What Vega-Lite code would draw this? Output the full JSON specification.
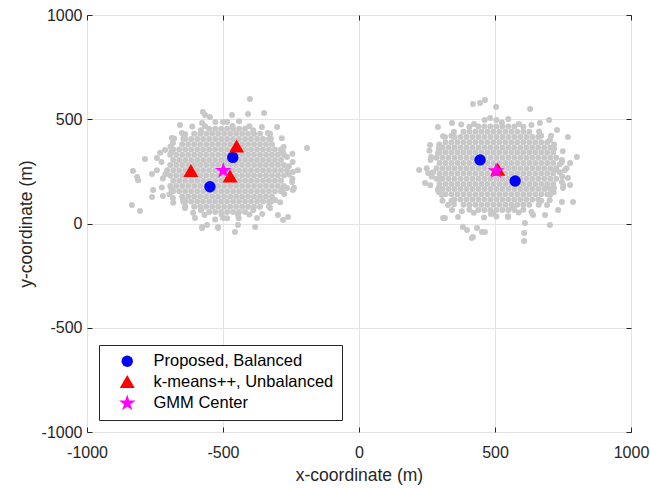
{
"$schema":"https://vega.github.io/schema/vega-lite/v6.json",
"width":544,"height":417,
"autosize":{"type":"none"},
"padding":{"left":87,"top":15,"right":19,"bottom":56},
"background":"white",
"config":{
"view":{"stroke":"#262626","strokeWidth":1},
"font":"Liberation Sans",
"axis":{"labelFont":"Liberation Sans","titleFont":"Liberation Sans","labelFontSize":16,"titleFontSize":17.5,"titleFontWeight":"normal","labelColor":"#262626","titleColor":"#262626","tickColor":"#262626","tickSize":-5,"domain":false,"gridColor":"#e3e3e3","labelOverlap":false,"labelFlush":false,"labelBound":false},
"legend":{"labelFont":"Liberation Sans","labelFontSize":16.5,"labelColor":"#000000"}
},
"datasets":{
"gray":[
{"x":-705,"y":255},{"x":-683,"y":255},{"x":-661,"y":255},{"x":-639,"y":255},{"x":-617,"y":255},{"x":-595,"y":255},{"x":-573,"y":255},{"x":-551,"y":255},{"x":-529,"y":255},{"x":-507,"y":255},{"x":-485,"y":255},{"x":-463,"y":255},{"x":-441,"y":255},{"x":-419,"y":255},{"x":-397,"y":255},{"x":-375,"y":255},{"x":-353,"y":255},{"x":-331,"y":255},{"x":-309,"y":255},{"x":-287,"y":255},{"x":-265,"y":255},
{"x":-694,"y":280},{"x":-672,"y":280},{"x":-650,"y":280},{"x":-628,"y":280},{"x":-606,"y":280},{"x":-584,"y":280},{"x":-562,"y":280},{"x":-540,"y":280},{"x":-518,"y":280},{"x":-496,"y":280},{"x":-474,"y":280},{"x":-452,"y":280},{"x":-430,"y":280},{"x":-408,"y":280},{"x":-386,"y":280},{"x":-364,"y":280},{"x":-342,"y":280},{"x":-320,"y":280},{"x":-298,"y":280},{"x":-276,"y":280},
{"x":-694,"y":230},{"x":-672,"y":230},{"x":-650,"y":230},{"x":-628,"y":230},{"x":-606,"y":230},{"x":-584,"y":230},{"x":-562,"y":230},{"x":-540,"y":230},{"x":-518,"y":230},{"x":-496,"y":230},{"x":-474,"y":230},{"x":-452,"y":230},{"x":-430,"y":230},{"x":-408,"y":230},{"x":-386,"y":230},{"x":-364,"y":230},{"x":-342,"y":230},{"x":-320,"y":230},{"x":-298,"y":230},{"x":-276,"y":230},
{"x":-683,"y":305},{"x":-661,"y":305},{"x":-639,"y":305},{"x":-617,"y":305},{"x":-595,"y":305},{"x":-573,"y":305},{"x":-551,"y":305},{"x":-529,"y":305},{"x":-507,"y":305},{"x":-485,"y":305},{"x":-463,"y":305},{"x":-441,"y":305},{"x":-419,"y":305},{"x":-397,"y":305},{"x":-375,"y":305},{"x":-353,"y":305},{"x":-331,"y":305},{"x":-309,"y":305},{"x":-287,"y":305},
{"x":-683,"y":205},{"x":-661,"y":205},{"x":-639,"y":205},{"x":-617,"y":205},{"x":-595,"y":205},{"x":-573,"y":205},{"x":-551,"y":205},{"x":-529,"y":205},{"x":-507,"y":205},{"x":-485,"y":205},{"x":-463,"y":205},{"x":-441,"y":205},{"x":-419,"y":205},{"x":-397,"y":205},{"x":-375,"y":205},{"x":-353,"y":205},{"x":-331,"y":205},{"x":-309,"y":205},{"x":-287,"y":205},
{"x":-694,"y":330},{"x":-672,"y":330},{"x":-650,"y":330},{"x":-628,"y":330},{"x":-606,"y":330},{"x":-584,"y":330},{"x":-562,"y":330},{"x":-540,"y":330},{"x":-518,"y":330},{"x":-496,"y":330},{"x":-474,"y":330},{"x":-452,"y":330},{"x":-430,"y":330},{"x":-408,"y":330},{"x":-386,"y":330},{"x":-364,"y":330},{"x":-342,"y":330},{"x":-320,"y":330},{"x":-298,"y":330},{"x":-276,"y":330},
{"x":-694,"y":180},{"x":-672,"y":180},{"x":-650,"y":180},{"x":-628,"y":180},{"x":-606,"y":180},{"x":-584,"y":180},{"x":-562,"y":180},{"x":-540,"y":180},{"x":-518,"y":180},{"x":-496,"y":180},{"x":-474,"y":180},{"x":-452,"y":180},{"x":-430,"y":180},{"x":-408,"y":180},{"x":-386,"y":180},{"x":-364,"y":180},{"x":-342,"y":180},{"x":-320,"y":180},{"x":-298,"y":180},{"x":-276,"y":180},
{"x":-683,"y":355},{"x":-661,"y":355},{"x":-639,"y":355},{"x":-617,"y":355},{"x":-595,"y":355},{"x":-573,"y":355},{"x":-551,"y":355},{"x":-529,"y":355},{"x":-507,"y":355},{"x":-485,"y":355},{"x":-463,"y":355},{"x":-441,"y":355},{"x":-419,"y":355},{"x":-397,"y":355},{"x":-375,"y":355},{"x":-353,"y":355},{"x":-331,"y":355},{"x":-309,"y":355},{"x":-287,"y":355},
{"x":-683,"y":155},{"x":-661,"y":155},{"x":-639,"y":155},{"x":-617,"y":155},{"x":-595,"y":155},{"x":-573,"y":155},{"x":-551,"y":155},{"x":-529,"y":155},{"x":-507,"y":155},{"x":-485,"y":155},{"x":-463,"y":155},{"x":-441,"y":155},{"x":-419,"y":155},{"x":-397,"y":155},{"x":-375,"y":155},{"x":-353,"y":155},{"x":-331,"y":155},{"x":-309,"y":155},{"x":-287,"y":155},
{"x":-650,"y":380},{"x":-628,"y":380},{"x":-606,"y":380},{"x":-584,"y":380},{"x":-562,"y":380},{"x":-540,"y":380},{"x":-518,"y":380},{"x":-496,"y":380},{"x":-474,"y":380},{"x":-452,"y":380},{"x":-430,"y":380},{"x":-408,"y":380},{"x":-386,"y":380},{"x":-364,"y":380},{"x":-342,"y":380},{"x":-320,"y":380},
{"x":-650,"y":130},{"x":-628,"y":130},{"x":-606,"y":130},{"x":-584,"y":130},{"x":-562,"y":130},{"x":-540,"y":130},{"x":-518,"y":130},{"x":-496,"y":130},{"x":-474,"y":130},{"x":-452,"y":130},{"x":-430,"y":130},{"x":-408,"y":130},{"x":-386,"y":130},{"x":-364,"y":130},{"x":-342,"y":130},{"x":-320,"y":130},
{"x":-639,"y":405},{"x":-617,"y":405},{"x":-595,"y":405},{"x":-573,"y":405},{"x":-551,"y":405},{"x":-529,"y":405},{"x":-507,"y":405},{"x":-485,"y":405},{"x":-463,"y":405},{"x":-441,"y":405},{"x":-419,"y":405},{"x":-397,"y":405},{"x":-375,"y":405},{"x":-353,"y":405},{"x":-331,"y":405},
{"x":-639,"y":105},{"x":-617,"y":105},{"x":-595,"y":105},{"x":-573,"y":105},{"x":-551,"y":105},{"x":-529,"y":105},{"x":-507,"y":105},{"x":-485,"y":105},{"x":-463,"y":105},{"x":-441,"y":105},{"x":-419,"y":105},{"x":-397,"y":105},{"x":-375,"y":105},{"x":-353,"y":105},{"x":-331,"y":105},
{"x":-606,"y":430},{"x":-584,"y":430},{"x":-562,"y":430},{"x":-540,"y":430},{"x":-518,"y":430},{"x":-496,"y":430},{"x":-474,"y":430},{"x":-452,"y":430},{"x":-430,"y":430},{"x":-408,"y":430},{"x":-386,"y":430},{"x":-364,"y":430},
{"x":-606,"y":80},{"x":-584,"y":80},{"x":-562,"y":80},{"x":-540,"y":80},{"x":-518,"y":80},{"x":-496,"y":80},{"x":-474,"y":80},{"x":-452,"y":80},{"x":-430,"y":80},{"x":-408,"y":80},{"x":-386,"y":80},{"x":-364,"y":80},
{"x":-551,"y":455},{"x":-529,"y":455},{"x":-507,"y":455},{"x":-485,"y":455},{"x":-463,"y":455},{"x":-441,"y":455},{"x":-419,"y":455},
{"x":-551,"y":55},{"x":-529,"y":55},{"x":-507,"y":55},{"x":-485,"y":55},{"x":-463,"y":55},{"x":-441,"y":55},{"x":-419,"y":55},
{"x":-225,"y":255},{"x":-244,"y":295},{"x":-245,"y":335},{"x":-277,"y":367},{"x":-284,"y":409},{"x":-327,"y":431},{"x":-357,"y":463},{"x":-403,"y":467},{"x":-441,"y":491},{"x":-485,"y":487},{"x":-528,"y":487},{"x":-566,"y":467},{"x":-613,"y":465},{"x":-639,"y":428},{"x":-680,"y":408},{"x":-693,"y":369},{"x":-731,"y":339},{"x":-726,"y":295},{"x":-743,"y":255},{"x":-721,"y":216},{"x":-725,"y":173},{"x":-697,"y":140},{"x":-683,"y":99},{"x":-639,"y":82},{"x":-610,"y":51},{"x":-568,"y":41},{"x":-529,"y":19},{"x":-485,"y":25},{"x":-442,"y":25},{"x":-403,"y":43},{"x":-356,"y":45},{"x":-331,"y":82},{"x":-290,"y":102},{"x":-275,"y":141},{"x":-239,"y":172},{"x":-245,"y":215},
{"x":-258,"y":274},{"x":-280,"y":345},{"x":-324,"y":406},{"x":-389,"y":447},{"x":-465,"y":468},{"x":-581,"y":447},{"x":-646,"y":406},{"x":-690,"y":345},{"x":-712,"y":236},{"x":-690,"y":165},{"x":-646,"y":104},{"x":-581,"y":63},{"x":-505,"y":42},{"x":-389,"y":63},{"x":-324,"y":104},{"x":-280,"y":165},{"x":-258,"y":236},
{"x":-574,"y":535},{"x":-566,"y":520},{"x":-548,"y":511},{"x":-577,"y":482},{"x":-658,"y":472},{"x":-651,"y":434},{"x":-787,"y":309},{"x":-831,"y":252},{"x":-816,"y":223},{"x":-812,"y":208},{"x":-761,"y":237},{"x":-743,"y":314},{"x":-713,"y":352},{"x":-835,"y":89},{"x":-805,"y":60},{"x":-761,"y":127},{"x":-721,"y":132},{"x":-684,"y":122},{"x":-647,"y":113},{"x":-640,"y":74},{"x":-603,"y":26},{"x":-577,"y":-17},{"x":-559,"y":-7},{"x":-688,"y":410},{"x":-684,"y":386},{"x":-757,"y":161},
{"x":-401,"y":597},{"x":-467,"y":520},{"x":-408,"y":525},{"x":-349,"y":530},{"x":-500,"y":487},{"x":-301,"y":463},{"x":-335,"y":434},{"x":-191,"y":362},{"x":-265,"y":319},{"x":-243,"y":247},{"x":-246,"y":199},{"x":-265,"y":170},{"x":-243,"y":161},{"x":-309,"y":113},{"x":-327,"y":74},{"x":-298,"y":41},{"x":-261,"y":31},{"x":-279,"y":17},{"x":-375,"y":26},{"x":-445,"y":41},{"x":-500,"y":26},{"x":-518,"y":-17},{"x":-445,"y":-7},{"x":-382,"y":-17},{"x":-456,"y":-41},{"x":-577,"y":-22},{"x":-518,"y":-22},
{"x":285,"y":265},{"x":307,"y":265},{"x":329,"y":265},{"x":351,"y":265},{"x":373,"y":265},{"x":395,"y":265},{"x":417,"y":265},{"x":439,"y":265},{"x":461,"y":265},{"x":483,"y":265},{"x":505,"y":265},{"x":527,"y":265},{"x":549,"y":265},{"x":571,"y":265},{"x":593,"y":265},{"x":615,"y":265},{"x":637,"y":265},{"x":659,"y":265},{"x":681,"y":265},{"x":703,"y":265},{"x":725,"y":265},
{"x":296,"y":290},{"x":318,"y":290},{"x":340,"y":290},{"x":362,"y":290},{"x":384,"y":290},{"x":406,"y":290},{"x":428,"y":290},{"x":450,"y":290},{"x":472,"y":290},{"x":494,"y":290},{"x":516,"y":290},{"x":538,"y":290},{"x":560,"y":290},{"x":582,"y":290},{"x":604,"y":290},{"x":626,"y":290},{"x":648,"y":290},{"x":670,"y":290},{"x":692,"y":290},{"x":714,"y":290},
{"x":296,"y":240},{"x":318,"y":240},{"x":340,"y":240},{"x":362,"y":240},{"x":384,"y":240},{"x":406,"y":240},{"x":428,"y":240},{"x":450,"y":240},{"x":472,"y":240},{"x":494,"y":240},{"x":516,"y":240},{"x":538,"y":240},{"x":560,"y":240},{"x":582,"y":240},{"x":604,"y":240},{"x":626,"y":240},{"x":648,"y":240},{"x":670,"y":240},{"x":692,"y":240},{"x":714,"y":240},
{"x":285,"y":315},{"x":307,"y":315},{"x":329,"y":315},{"x":351,"y":315},{"x":373,"y":315},{"x":395,"y":315},{"x":417,"y":315},{"x":439,"y":315},{"x":461,"y":315},{"x":483,"y":315},{"x":505,"y":315},{"x":527,"y":315},{"x":549,"y":315},{"x":571,"y":315},{"x":593,"y":315},{"x":615,"y":315},{"x":637,"y":315},{"x":659,"y":315},{"x":681,"y":315},{"x":703,"y":315},{"x":725,"y":315},
{"x":285,"y":215},{"x":307,"y":215},{"x":329,"y":215},{"x":351,"y":215},{"x":373,"y":215},{"x":395,"y":215},{"x":417,"y":215},{"x":439,"y":215},{"x":461,"y":215},{"x":483,"y":215},{"x":505,"y":215},{"x":527,"y":215},{"x":549,"y":215},{"x":571,"y":215},{"x":593,"y":215},{"x":615,"y":215},{"x":637,"y":215},{"x":659,"y":215},{"x":681,"y":215},{"x":703,"y":215},{"x":725,"y":215},
{"x":296,"y":340},{"x":318,"y":340},{"x":340,"y":340},{"x":362,"y":340},{"x":384,"y":340},{"x":406,"y":340},{"x":428,"y":340},{"x":450,"y":340},{"x":472,"y":340},{"x":494,"y":340},{"x":516,"y":340},{"x":538,"y":340},{"x":560,"y":340},{"x":582,"y":340},{"x":604,"y":340},{"x":626,"y":340},{"x":648,"y":340},{"x":670,"y":340},{"x":692,"y":340},{"x":714,"y":340},
{"x":296,"y":190},{"x":318,"y":190},{"x":340,"y":190},{"x":362,"y":190},{"x":384,"y":190},{"x":406,"y":190},{"x":428,"y":190},{"x":450,"y":190},{"x":472,"y":190},{"x":494,"y":190},{"x":516,"y":190},{"x":538,"y":190},{"x":560,"y":190},{"x":582,"y":190},{"x":604,"y":190},{"x":626,"y":190},{"x":648,"y":190},{"x":670,"y":190},{"x":692,"y":190},{"x":714,"y":190},
{"x":307,"y":365},{"x":329,"y":365},{"x":351,"y":365},{"x":373,"y":365},{"x":395,"y":365},{"x":417,"y":365},{"x":439,"y":365},{"x":461,"y":365},{"x":483,"y":365},{"x":505,"y":365},{"x":527,"y":365},{"x":549,"y":365},{"x":571,"y":365},{"x":593,"y":365},{"x":615,"y":365},{"x":637,"y":365},{"x":659,"y":365},{"x":681,"y":365},{"x":703,"y":365},
{"x":307,"y":165},{"x":329,"y":165},{"x":351,"y":165},{"x":373,"y":165},{"x":395,"y":165},{"x":417,"y":165},{"x":439,"y":165},{"x":461,"y":165},{"x":483,"y":165},{"x":505,"y":165},{"x":527,"y":165},{"x":549,"y":165},{"x":571,"y":165},{"x":593,"y":165},{"x":615,"y":165},{"x":637,"y":165},{"x":659,"y":165},{"x":681,"y":165},{"x":703,"y":165},
{"x":318,"y":390},{"x":340,"y":390},{"x":362,"y":390},{"x":384,"y":390},{"x":406,"y":390},{"x":428,"y":390},{"x":450,"y":390},{"x":472,"y":390},{"x":494,"y":390},{"x":516,"y":390},{"x":538,"y":390},{"x":560,"y":390},{"x":582,"y":390},{"x":604,"y":390},{"x":626,"y":390},{"x":648,"y":390},{"x":670,"y":390},{"x":692,"y":390},
{"x":318,"y":140},{"x":340,"y":140},{"x":362,"y":140},{"x":384,"y":140},{"x":406,"y":140},{"x":428,"y":140},{"x":450,"y":140},{"x":472,"y":140},{"x":494,"y":140},{"x":516,"y":140},{"x":538,"y":140},{"x":560,"y":140},{"x":582,"y":140},{"x":604,"y":140},{"x":626,"y":140},{"x":648,"y":140},{"x":670,"y":140},{"x":692,"y":140},
{"x":351,"y":415},{"x":373,"y":415},{"x":395,"y":415},{"x":417,"y":415},{"x":439,"y":415},{"x":461,"y":415},{"x":483,"y":415},{"x":505,"y":415},{"x":527,"y":415},{"x":549,"y":415},{"x":571,"y":415},{"x":593,"y":415},{"x":615,"y":415},{"x":637,"y":415},{"x":659,"y":415},
{"x":351,"y":115},{"x":373,"y":115},{"x":395,"y":115},{"x":417,"y":115},{"x":439,"y":115},{"x":461,"y":115},{"x":483,"y":115},{"x":505,"y":115},{"x":527,"y":115},{"x":549,"y":115},{"x":571,"y":115},{"x":593,"y":115},{"x":615,"y":115},{"x":637,"y":115},{"x":659,"y":115},
{"x":384,"y":440},{"x":406,"y":440},{"x":428,"y":440},{"x":450,"y":440},{"x":472,"y":440},{"x":494,"y":440},{"x":516,"y":440},{"x":538,"y":440},{"x":560,"y":440},{"x":582,"y":440},{"x":604,"y":440},{"x":626,"y":440},
{"x":384,"y":90},{"x":406,"y":90},{"x":428,"y":90},{"x":450,"y":90},{"x":472,"y":90},{"x":494,"y":90},{"x":516,"y":90},{"x":538,"y":90},{"x":560,"y":90},{"x":582,"y":90},{"x":604,"y":90},{"x":626,"y":90},
{"x":439,"y":465},{"x":461,"y":465},{"x":483,"y":465},{"x":505,"y":465},{"x":527,"y":465},{"x":549,"y":465},{"x":571,"y":465},
{"x":439,"y":65},{"x":461,"y":65},{"x":483,"y":65},{"x":505,"y":65},{"x":527,"y":65},{"x":549,"y":65},{"x":571,"y":65},
{"x":763,"y":265},{"x":746,"y":305},{"x":749,"y":347},{"x":717,"y":379},{"x":706,"y":421},{"x":662,"y":441},{"x":634,"y":473},{"x":588,"y":477},{"x":549,"y":501},{"x":505,"y":497},{"x":462,"y":497},{"x":423,"y":477},{"x":376,"y":475},{"x":349,"y":440},{"x":309,"y":419},{"x":295,"y":379},{"x":259,"y":349},{"x":263,"y":305},{"x":249,"y":265},{"x":267,"y":226},{"x":262,"y":183},{"x":294,"y":150},{"x":307,"y":109},{"x":349,"y":92},{"x":378,"y":59},{"x":422,"y":51},{"x":460,"y":29},{"x":505,"y":33},{"x":548,"y":35},{"x":587,"y":53},{"x":634,"y":55},{"x":661,"y":90},{"x":701,"y":111},{"x":716,"y":150},{"x":751,"y":182},{"x":747,"y":225},
{"x":738,"y":284},{"x":717,"y":358},{"x":670,"y":421},{"x":604,"y":464},{"x":525,"y":484},{"x":406,"y":464},{"x":340,"y":421},{"x":293,"y":358},{"x":272,"y":246},{"x":293,"y":172},{"x":340,"y":109},{"x":406,"y":66},{"x":485,"y":46},{"x":604,"y":66},{"x":670,"y":109},{"x":717,"y":172},{"x":738,"y":246},
{"x":419,"y":573},{"x":445,"y":578},{"x":463,"y":592},{"x":504,"y":559},{"x":482,"y":506},{"x":342,"y":482},{"x":290,"y":463},{"x":261,"y":376},{"x":265,"y":319},{"x":221,"y":257},{"x":254,"y":242},{"x":243,"y":194},{"x":290,"y":161},{"x":305,"y":137},{"x":327,"y":89},{"x":316,"y":26},{"x":364,"y":31},{"x":382,"y":-17},{"x":397,"y":-31},{"x":419,"y":-65},{"x":463,"y":-41},{"x":434,"y":-22},{"x":493,"y":50},{"x":316,"y":415},{"x":290,"y":338},{"x":298,"y":218},
{"x":629,"y":549},{"x":699,"y":496},{"x":665,"y":482},{"x":728,"y":448},{"x":768,"y":415},{"x":702,"y":401},{"x":801,"y":319},{"x":776,"y":290},{"x":746,"y":295},{"x":757,"y":257},{"x":721,"y":257},{"x":768,"y":218},{"x":746,"y":199},{"x":776,"y":185},{"x":750,"y":170},{"x":691,"y":175},{"x":702,"y":137},{"x":787,"y":103},{"x":746,"y":103},{"x":732,"y":65},{"x":691,"y":89},{"x":640,"y":41},{"x":684,"y":41},{"x":702,"y":-7},{"x":610,"y":2},{"x":607,"y":-46},{"x":607,"y":-84},{"x":566,"y":79},{"x":548,"y":31},{"x":309,"y":26},{"x":342,"y":65},{"x":415,"y":-70},{"x":452,"y":-41}
],
"marks":[
{"x":-464,"y":317,"method":"Proposed, Balanced"},
{"x":-548,"y":176,"method":"Proposed, Balanced"},
{"x":445,"y":305,"method":"Proposed, Balanced"},
{"x":574,"y":204,"method":"Proposed, Balanced"},
{"x":-618,"y":253,"method":"k-means++, Unbalanced"},
{"x":-450,"y":370,"method":"k-means++, Unbalanced"},
{"x":-474,"y":226,"method":"k-means++, Unbalanced"},
{"x":510,"y":258,"method":"k-means++, Unbalanced"},
{"x":-499,"y":253,"method":"GMM Center"},
{"x":504,"y":252,"method":"GMM Center"}
]
},
"layer":[
{"data":{"name":"gray"},
"mark":{"type":"point","filled":true,"shape":"circle","size":36,"color":"#c8c8c8","opacity":1,"strokeWidth":0},
"encoding":{
"x":{"field":"x","type":"quantitative","scale":{"domain":[-1000,1000],"nice":false,"zero":false},"axis":{"orient":"bottom","values":[-1000,-500,0,500,1000],"labelExpr":"datum.value + ''","grid":true,"title":"x-coordinate (m)","labelPadding":17,"titlePadding":6}},
"y":{"field":"y","type":"quantitative","scale":{"domain":[-1000,1000],"nice":false,"zero":false},"axis":{"orient":"left","values":[-1000,-500,0,500,1000],"labelExpr":"datum.value + ''","grid":true,"title":"y-coordinate (m)","labelPadding":10,"titlePadding":6}}
}},
{"data":{"name":"marks"},
"mark":{"type":"point","filled":true,"opacity":1,"size":130,"strokeWidth":0},
"encoding":{
"x":{"field":"x","type":"quantitative","scale":{"domain":[-1000,1000],"nice":false,"zero":false},"axis":{"orient":"top","values":[-1000,-500,0,500,1000],"labels":false,"grid":false,"title":null}},
"y":{"field":"y","type":"quantitative","scale":{"domain":[-1000,1000],"nice":false,"zero":false},"axis":{"orient":"right","values":[-1000,-500,0,500,1000],"labels":false,"grid":false,"title":null}},
"color":{"field":"method","type":"nominal","sort":null,"scale":{"domain":["Proposed, Balanced","k-means++, Unbalanced","GMM Center"],"range":["#0000ff","#ff0000","#ff00ff"]},"legend":{"title":null,"orient":"bottom-left","offset":12,"strokeColor":"#262626","fillColor":"white","padding":8,"rowPadding":3.5,"symbolSize":130,"symbolOffset":12,"labelOffset":18,"labelLimit":400}},
"shape":{"field":"method","type":"nominal","sort":null,"scale":{"domain":["Proposed, Balanced","k-means++, Unbalanced","GMM Center"],"range":["circle","M0,-1.2L1.32,1.08L-1.32,1.08Z","M0,-1.53L0.343,-0.473L1.455,-0.473L0.555,0.18L0.899,1.238L0,0.584L-0.899,1.238L-0.555,0.18L-1.455,-0.473L-0.343,-0.473Z"]},"legend":{"title":null,"orient":"bottom-left","offset":12,"strokeColor":"#262626","fillColor":"white","padding":8,"rowPadding":3.5,"symbolSize":130,"symbolOffset":12,"labelOffset":18,"labelLimit":400}}
}}
],
"resolve":{"axis":{"x":"independent","y":"independent"}}
}
